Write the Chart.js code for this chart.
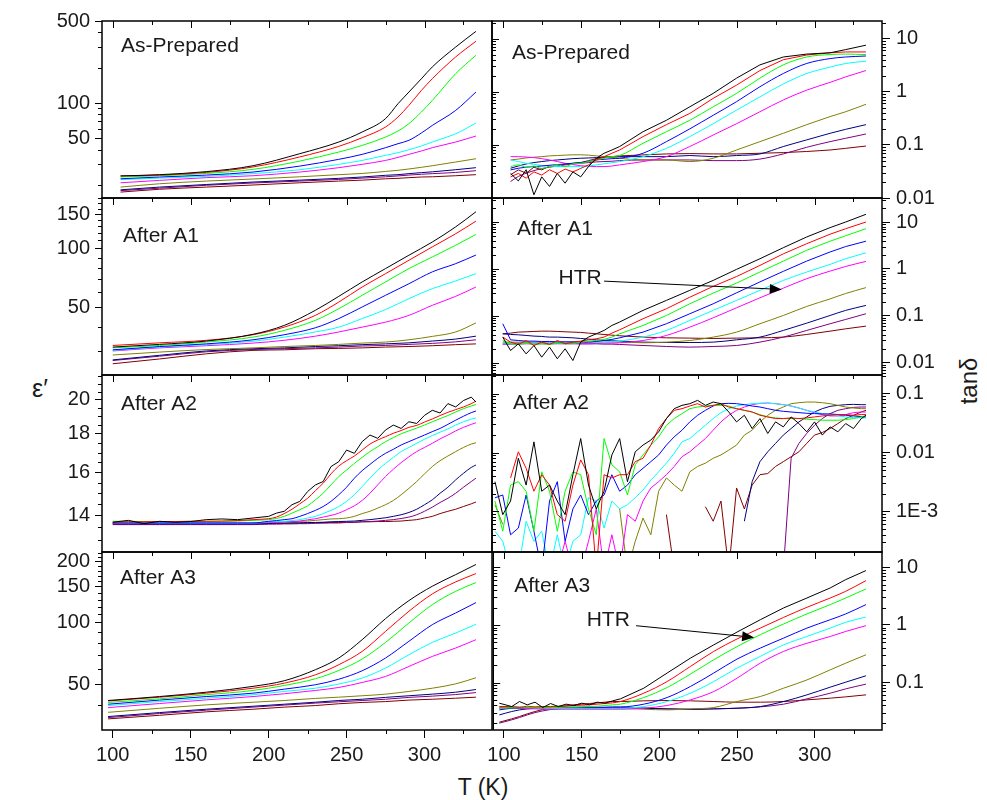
<!DOCTYPE html>
<html>
<head>
<meta charset="utf-8">
<script src="https://cdn.jsdelivr.net/npm/chart.js@4.4.0/dist/chart.umd.min.js"></script>
<style>
  body { margin: 0; background: #fff; width: 987px; height: 800px; position: relative; overflow: hidden;
         font-family: "Liberation Sans", Arial, sans-serif; color: #1a1a1a; }
  canvas { position: absolute; }
  .title { position: absolute; transform: translate(-50%, -50%); white-space: nowrap; }
</style>
</head>
<body>
<div class="title" style="left:483px;top:787px;font-size:23px">T (K)</div>
<div class="title" style="left:40px;top:388px;font-size:25px">ε′</div>
<div class="title" style="left:969px;top:381px;font-size:24px;transform:translate(-50%,-50%) rotate(-90deg)">tanδ</div>
<script>
// frequency curves, same colour order in every panel
const seriesColors = ['#000000', '#ff0000', '#00ff00', '#0000ff', '#00ffff', '#ff00ff', '#808000', '#000080', '#800080', '#800000'];

const xMajor = [100, 150, 200, 250, 300];
const xLabels = ['100', '150', '200', '250', '300'];
const xMinor = [125, 175, 225, 275, 325];

function gap(n) { return new Array(n).fill(null); }

// ---- As-Prepared, eps'
const apEpsT = [105, 130, 160, 190, 220, 245, 260, 275, 283, 290, 298, 305, 320, 333];
const apEps = [
  [23.9, 24.5, 26.0, 29.2, 37.0, 46.5, 56.6, 73.6, 98.6, 124, 161, 203, 300, 408],
  [23.9, 24.3, 25.6, 28.5, 34.7, 42.7, 50.6, 62.4, 76.0, 95.5, 128, 161, 247, 336],
  [23.4, 24.0, 25.1, 27.2, 32.0, 38.2, 43.5, 51.3, 57.7, 66.7, 83.8, 105, 178, 255],
  [22.6, 23.4, 24.3, 25.8, 29.0, 33.1, 36.5, 41.6, 45.0, 48.1, 55.5, 64.4, 86.5, 124],
  [22.2, 22.9, 23.7, 25.0, 27.0, 30.0, 32.4, 35.8, 37.7, 40.0, 43.0, 46.5, 54.7, 67.4],
  [20.9, 21.9, 23.1, 24.0, 25.8, 28.1, 30.0, 32.4, 34.4, 36.5, 39.0, 41.6, 46.5, 52.3],
  [19.2, 20.5, 21.6, 22.5, 23.5, 24.5, 25.1, 26.1, 26.7, 27.4, 28.3, 29.2, 31.4, 33.5],
  [18.2, 19.2, 20.2, 21.2, 22.0, 22.8, 23.4, 24.2, 24.5, 25.0, 25.5, 25.9, 27.0, 28.1],
  [17.9, 18.8, 19.9, 20.8, 21.6, 22.3, 22.9, 23.5, 23.9, 24.3, 24.7, 25.0, 25.6, 26.5],
  [17.4, 18.4, 19.2, 20.0, 20.9, 21.6, 22.0, 22.6, 22.8, 23.1, 23.4, 23.5, 24.0, 24.5]
];

// ---- As-Prepared, tan delta
const apTanT = [105, 110, 115, 120, 125, 130, 135, 140, 145, 150, 155, 160, 165, 170, 175, 190, 205, 220, 235, 250, 265, 280, 295, 310, 320, 333];
const apTan = [
  [0.029, 0.021, 0.034, 0.0115, 0.025, 0.0165, 0.029, 0.019, 0.031, 0.025, 0.039, 0.056, 0.0695, 0.080, 0.093, 0.177, 0.29, 0.52, 0.93, 1.8, 3.2, 4.5, 5.1, 5.4, 6.2, 7.5],
  [0.025, 0.029, 0.0236, 0.031, 0.027, 0.034, 0.029, 0.035, 0.031, 0.036, 0.042, 0.052, 0.060, 0.0695, 0.080, 0.143, 0.24, 0.39, 0.75, 1.33, 2.5, 4.0, 4.9, 5.4, 5.6, 5.6],
  [0.039, 0.042, 0.038, 0.040, 0.036, 0.039, 0.042, 0.039, 0.044, 0.045, 0.0485, 0.052, 0.056, 0.060, 0.063, 0.107, 0.177, 0.29, 0.52, 0.93, 1.8, 3.2, 4.5, 5.0, 5.1, 5.0],
  [0.0338, 0.0363, 0.038, 0.039, 0.040, 0.0413, 0.0425, 0.0437, 0.045, 0.0464, 0.0485, 0.052, 0.0535, 0.055, 0.056, 0.0695, 0.115, 0.20, 0.36, 0.65, 1.24, 2.2, 3.4, 4.2, 4.5, 4.7],
  [0.052, 0.0485, 0.045, 0.043, 0.041, 0.040, 0.039, 0.039, 0.039, 0.039, 0.040, 0.042, 0.044, 0.046, 0.0485, 0.060, 0.086, 0.143, 0.25, 0.45, 0.80, 1.4, 2.2, 2.9, 3.4, 3.75],
  [0.060, 0.060, 0.059, 0.0575, 0.055, 0.052, 0.0485, 0.045, 0.0425, 0.0405, 0.0395, 0.039, 0.039, 0.040, 0.042, 0.0485, 0.060, 0.093, 0.153, 0.25, 0.42, 0.70, 1.07, 1.5, 1.9, 2.5],
  [0.052, 0.054, 0.0567, 0.0585, 0.060, 0.062, 0.063, 0.064, 0.065, 0.065, 0.064, 0.062, 0.060, 0.0585, 0.056, 0.052, 0.052, 0.0485, 0.056, 0.080, 0.115, 0.165, 0.24, 0.34, 0.42, 0.58],
  [0.0363, 0.040, 0.0437, 0.0464, 0.0485, 0.0505, 0.052, 0.0535, 0.055, 0.056, 0.0567, 0.0575, 0.0585, 0.059, 0.060, 0.060, 0.060, 0.063, 0.060, 0.063, 0.0675, 0.093, 0.124, 0.165, 0.196, 0.24],
  [0.0204, 0.0254, 0.0293, 0.0328, 0.0358, 0.038, 0.040, 0.042, 0.0437, 0.045, 0.0464, 0.0478, 0.0485, 0.0492, 0.0505, 0.052, 0.052, 0.052, 0.0505, 0.0505, 0.054, 0.0675, 0.090, 0.115, 0.133, 0.16],
  [0.0273, 0.0338, 0.0293, 0.038, 0.0338, 0.040, 0.039, 0.0437, 0.045, 0.0464, 0.0505, 0.055, 0.0585, 0.060, 0.062, 0.0647, 0.0675, 0.0685, 0.0675, 0.0675, 0.0695, 0.0715, 0.075, 0.080, 0.086, 0.095]
];

// ---- After A1, eps'
const a1EpsT = [100, 130, 160, 190, 210, 230, 245, 260, 275, 290, 305, 320, 333];
const a1Eps = [
  [31.5, 32.5, 33.8, 36.6, 40.6, 48.5, 57.1, 67.6, 79.1, 92.5, 108, 129, 154],
  [32.1, 33.1, 34.1, 36.4, 39.8, 45.7, 53.4, 63.7, 74.5, 87.2, 102, 119, 138],
  [31.2, 32.1, 33.4, 35.4, 38.3, 43.1, 49.4, 57.8, 67.6, 79.1, 90.6, 104, 118],
  [30.5, 31.7, 32.7, 34.3, 36.4, 39.5, 44.0, 50.4, 57.8, 66.2, 76.1, 83.8, 92.7],
  [30.3, 31.5, 32.4, 33.7, 35.4, 37.6, 39.8, 44.0, 48.9, 55.6, 62.5, 68.4, 74.5],
  [30.1, 31.2, 32.0, 33.0, 34.1, 35.8, 37.6, 39.8, 42.2, 45.7, 51.4, 57.1, 63.7],
  [28.7, 29.7, 30.6, 31.2, 31.7, 32.1, 32.5, 33.0, 33.4, 34.3, 35.7, 37.6, 41.8],
  [27.1, 28.6, 30.1, 30.9, 31.2, 31.7, 32.0, 32.4, 32.7, 33.1, 33.8, 34.6, 35.8],
  [26.9, 28.3, 29.8, 30.6, 30.9, 31.2, 31.5, 31.9, 32.1, 32.5, 32.9, 33.5, 34.3],
  [25.9, 27.4, 29.1, 30.3, 30.5, 30.9, 31.0, 31.2, 31.5, 31.7, 32.0, 32.4, 32.7]
];

// ---- After A1, tan delta
const a1TanT = [100, 105, 110, 115, 120, 125, 130, 135, 140, 145, 150, 155, 160, 165, 170, 175, 190, 205, 220, 235, 250, 265, 280, 295, 310, 320, 333];
const a1Tan = [
  [0.0353, 0.0183, 0.0254, 0.0155, 0.0234, 0.0132, 0.0216, 0.0122, 0.0199, 0.0112, 0.0276, 0.0353, 0.0415, 0.049, 0.0625, 0.074, 0.131, 0.214, 0.35, 0.57, 0.98, 1.65, 2.84, 4.8, 7.6, 10.0, 14.6],
  [0.0353, 0.0276, 0.0246, 0.0299, 0.0234, 0.0276, 0.0246, 0.0299, 0.0254, 0.0276, 0.029, 0.0309, 0.0325, 0.0353, 0.0429, 0.0505, 0.087, 0.142, 0.25, 0.425, 0.69, 1.19, 2.1, 3.45, 5.5, 7.2, 10.0],
  [0.0299, 0.0254, 0.0246, 0.0262, 0.0242, 0.0254, 0.0246, 0.0262, 0.0254, 0.0254, 0.0276, 0.029, 0.0299, 0.0315, 0.0353, 0.0415, 0.0625, 0.102, 0.181, 0.306, 0.50, 0.86, 1.47, 2.5, 3.9, 5.1, 7.2],
  [0.068, 0.0309, 0.0299, 0.029, 0.029, 0.0285, 0.0285, 0.028, 0.028, 0.028, 0.0276, 0.0276, 0.0285, 0.0299, 0.0315, 0.0341, 0.0451, 0.068, 0.111, 0.181, 0.31, 0.53, 0.89, 1.47, 2.3, 3.0, 3.9],
  [0.0254, 0.0254, 0.0254, 0.0258, 0.0262, 0.0262, 0.0267, 0.0267, 0.0267, 0.0271, 0.0276, 0.0276, 0.0276, 0.0276, 0.028, 0.029, 0.0353, 0.049, 0.080, 0.131, 0.214, 0.35, 0.57, 0.86, 1.25, 1.65, 2.2],
  [0.0246, 0.0246, 0.025, 0.0254, 0.0254, 0.0254, 0.0254, 0.0254, 0.0254, 0.0254, 0.0254, 0.0254, 0.0258, 0.0262, 0.0262, 0.0267, 0.0299, 0.0383, 0.0575, 0.091, 0.149, 0.243, 0.39, 0.62, 0.90, 1.13, 1.45],
  [0.0276, 0.0276, 0.0276, 0.0276, 0.0276, 0.0276, 0.0276, 0.0276, 0.0276, 0.0276, 0.0276, 0.0276, 0.0276, 0.0276, 0.0276, 0.0276, 0.0267, 0.0276, 0.0299, 0.0353, 0.0451, 0.068, 0.102, 0.159, 0.23, 0.30, 0.40],
  [0.0415, 0.0402, 0.0395, 0.0383, 0.0371, 0.0365, 0.0353, 0.0353, 0.0347, 0.0341, 0.033, 0.032, 0.0309, 0.0299, 0.0294, 0.029, 0.0276, 0.0271, 0.0271, 0.0276, 0.0309, 0.0353, 0.049, 0.070, 0.102, 0.131, 0.167],
  [0.0254, 0.0262, 0.0262, 0.0262, 0.0262, 0.0262, 0.0262, 0.0262, 0.0258, 0.0258, 0.0254, 0.0254, 0.0254, 0.025, 0.025, 0.0246, 0.0234, 0.0223, 0.0216, 0.0223, 0.0234, 0.0276, 0.0353, 0.049, 0.068, 0.084, 0.111],
  [0.0415, 0.0429, 0.0451, 0.0458, 0.0466, 0.0473, 0.0473, 0.0466, 0.0458, 0.0451, 0.0444, 0.0429, 0.0415, 0.0402, 0.0389, 0.0377, 0.0353, 0.0341, 0.0336, 0.033, 0.0336, 0.0341, 0.0353, 0.0402, 0.0473, 0.053, 0.0605]
];

// ---- After A2, eps'
const a2EpsT = [100, 110, 120, 130, 140, 150, 160, 170, 180, 190, 200, 205, 210, 215, 220, 225, 230, 235, 240, 245, 250, 255, 260, 265, 270, 275, 280, 285, 290, 295, 300, 305, 310, 315, 320, 325, 330, 333];
const a2Eps = [
  [13.72, 13.80, 13.66, 13.76, 13.72, 13.75, 13.83, 13.86, 13.83, 13.90, 13.97, 14.11, 14.19, 14.48, 14.63, 15.08, 15.39, 15.55, 16.28, 16.53, 17.13, 16.96, 17.58, 17.94, 17.76, 18.22, 18.50, 18.31, 18.69, 18.59, 19.06, 19.36, 19.20, 19.76, 19.56, 19.95, 20.16, 19.86],
  [13.72, 13.74, 13.74, 13.75, 13.75, 13.76, 13.76, 13.77, 13.79, 13.83, 13.87, 13.94, 14.09, 14.28, 14.52, 14.77, 15.12, 15.47, 15.92, 16.31, 16.58, 16.82, 17.13, 17.45, 17.67, 17.85, 18.04, 18.19, 18.37, 18.48, 18.67, 18.85, 19.05, 19.24, 19.40, 19.56, 19.76, 19.91],
  [13.76, 13.76, 13.75, 13.75, 13.75, 13.76, 13.76, 13.76, 13.77, 13.80, 13.83, 13.88, 13.97, 14.11, 14.26, 14.43, 14.70, 15.00, 15.39, 15.79, 16.11, 16.44, 16.75, 17.05, 17.31, 17.58, 17.80, 18.01, 18.17, 18.33, 18.50, 18.69, 18.87, 19.05, 19.26, 19.46, 19.62, 19.70],
  [13.69, 13.69, 13.69, 13.69, 13.69, 13.69, 13.69, 13.69, 13.69, 13.69, 13.76, 13.79, 13.83, 13.87, 13.97, 14.09, 14.23, 14.40, 14.63, 14.93, 15.28, 15.71, 16.08, 16.39, 16.70, 16.96, 17.17, 17.40, 17.58, 17.76, 17.94, 18.13, 18.31, 18.54, 18.78, 19.01, 19.22, 19.32],
  [13.69, 13.69, 13.69, 13.69, 13.69, 13.69, 13.69, 13.69, 13.69, 13.69, 13.74, 13.75, 13.76, 13.79, 13.83, 13.90, 13.97, 14.09, 14.23, 14.40, 14.63, 14.93, 15.31, 15.71, 16.11, 16.44, 16.75, 17.05, 17.27, 17.49, 17.71, 17.91, 18.10, 18.28, 18.50, 18.69, 18.84, 18.91],
  [13.68, 13.68, 13.68, 13.68, 13.68, 13.68, 13.68, 13.68, 13.68, 13.68, 13.71, 13.72, 13.74, 13.75, 13.77, 13.82, 13.87, 13.94, 14.01, 14.11, 14.26, 14.43, 14.67, 15.00, 15.39, 15.79, 16.15, 16.48, 16.78, 17.05, 17.27, 17.49, 17.73, 17.94, 18.17, 18.37, 18.54, 18.63],
  [13.68, 13.68, 13.68, 13.68, 13.68, 13.68, 13.68, 13.68, 13.68, 13.68, 13.72, 13.72, 13.74, 13.75, 13.76, 13.77, 13.80, 13.83, 13.86, 13.87, 13.90, 13.97, 14.09, 14.19, 14.33, 14.48, 14.67, 14.93, 15.23, 15.55, 15.92, 16.28, 16.58, 16.82, 17.05, 17.27, 17.45, 17.52],
  [13.65, 13.65, 13.65, 13.65, 13.65, 13.65, 13.65, 13.65, 13.65, 13.65, 13.66, 13.68, 13.68, 13.69, 13.69, 13.71, 13.71, 13.72, 13.74, 13.75, 13.76, 13.77, 13.80, 13.83, 13.87, 13.91, 13.97, 14.04, 14.14, 14.28, 14.48, 14.70, 15.00, 15.28, 15.63, 15.95, 16.24, 16.36],
  [13.62, 13.62, 13.62, 13.62, 13.62, 13.62, 13.62, 13.62, 13.62, 13.62, 13.64, 13.64, 13.65, 13.65, 13.66, 13.66, 13.68, 13.68, 13.69, 13.69, 13.71, 13.72, 13.74, 13.75, 13.77, 13.80, 13.83, 13.88, 13.94, 14.04, 14.19, 14.37, 14.58, 14.77, 15.00, 15.28, 15.55, 15.71],
  [13.66, 13.66, 13.66, 13.66, 13.66, 13.66, 13.66, 13.66, 13.66, 13.66, 13.68, 13.68, 13.68, 13.69, 13.69, 13.69, 13.69, 13.71, 13.71, 13.71, 13.72, 13.72, 13.74, 13.74, 13.75, 13.75, 13.76, 13.77, 13.80, 13.83, 13.90, 13.97, 14.09, 14.19, 14.28, 14.40, 14.52, 14.60]
];

// ---- After A2, tan delta (0.0001 = below the axis)
const a2TanT = [95, 100, 105, 110, 115, 120, 125, 130, 135, 140, 145, 150, 155, 160, 165, 170, 175, 180, 185, 190, 195, 200, 205, 210, 215, 220, 225, 230, 235, 240, 245, 250, 255, 260, 265, 270, 275, 280, 285, 290, 295, 300, 305, 310, 315, 320, 325, 330, 333];
const a2Tan = [
  [0.0032, 0.00088, 0.0015, 0.0080, 0.0028, 0.0152, 0.0022, 0.0028, 0.0015, 0.00088, 0.0042, 0.0173, 0.0028, 0.0011, 0.0022, 0.0091, 0.0173, 0.0032, 0.0103, 0.0134, 0.0163, 0.0225, 0.0378, 0.0557, 0.0634, 0.0677, 0.0771, 0.0634, 0.0722, 0.0677, 0.0489, 0.0332, 0.0430, 0.0256, 0.0378, 0.0211, 0.0332, 0.0273, 0.0403, 0.0311, 0.0225, 0.0332, 0.0198, 0.0273, 0.0225, 0.0311, 0.0256, 0.0378, 0.0430],
  [null, null, 0.0037, 0.0103, 0.0054, 0.0022, 0.0042, 0.0028, 0.00088, 0.00068, 0.0028, 0.0075, 0.0042, 0.0001, 0.0042, 0.0037, 0.0042, 0.0042, 0.0070, 0.0080, 0.0134, 0.0256, 0.0378, 0.0522, 0.0557, 0.0618, 0.0677, 0.0594, 0.0634, 0.0677, 0.0594, 0.0557, 0.0522, 0.0489, 0.0430, 0.0403, 0.0378, 0.0378, 0.0388, 0.0378, 0.0388, 0.0403, 0.0419, 0.0430, 0.0442, 0.0442, 0.0430, 0.0442, 0.0442],
  [0.0015, 0.00046, 0.0028, 0.0032, 0.0022, 0.00046, 0.0047, 0.0022, 0.00046, 0.0022, 0.0047, 0.0042, 0.0011, 0.00040, 0.0173, 0.0062, 0.0047, 0.0019, 0.0062, 0.0091, 0.0134, 0.0185, 0.0291, 0.0378, 0.0459, 0.0557, 0.0594, 0.0618, 0.0634, 0.0634, 0.0618, 0.0557, 0.0522, 0.0489, 0.0442, 0.0403, 0.0388, 0.0378, 0.0378, 0.0378, 0.0368, 0.0363, 0.0354, 0.0354, 0.0354, 0.0363, 0.0378, 0.0403, 0.0419],
  [0.0017, 0.0019, 0.00040, 0.00052, 0.0019, 0.00046, 0.0001, 0.0015, 0.0032, 0.00031, 0.0011, 0.0019, 0.00088, 0.0015, 0.0019, 0.0042, 0.0022, 0.0028, 0.0042, 0.0054, 0.0070, 0.0091, 0.0134, 0.0185, 0.0240, 0.0332, 0.0430, 0.0522, 0.0618, 0.0677, 0.0686, 0.0677, 0.0651, 0.0618, 0.0594, 0.0557, 0.0522, 0.0502, 0.0489, 0.0477, 0.0465, 0.0459, 0.0453, 0.0453, 0.0442, 0.0430, 0.0419, 0.0408, 0.0403],
  [0.00046, 0.00031, 0.0001, 0.0001, 0.00068, 0.00031, 0.00046, 0.0001, 0.00040, 0.0001, 0.00031, 0.00040, 0.0017, 0.0015, 0.00052, 0.0015, 0.0011, 0.0013, 0.0017, 0.0023, 0.0034, 0.0047, 0.0066, 0.0097, 0.0152, 0.0173, 0.0225, 0.0291, 0.0378, 0.0477, 0.0557, 0.0618, 0.0651, 0.0677, 0.0686, 0.0686, 0.0677, 0.0651, 0.0618, 0.0571, 0.0522, 0.0489, 0.0459, 0.0442, 0.0419, 0.0403, 0.0393, 0.0388, 0.0388],
  [...gap(8), 0.0001, 0.00031, 0.0001, 0.0001, 0.00031, 0.0011, 0.0001, 0.00040, 0.0001, 0.00088, 0.00068, 0.0015, 0.0025, 0.0032, 0.0042, 0.0058, 0.0085, 0.0103, 0.0134, 0.0173, 0.0240, 0.0332, 0.0430, 0.0522, 0.0594, 0.0651, 0.0686, 0.0695, 0.0677, 0.0651, 0.0618, 0.0571, 0.0522, 0.0477, 0.0442, 0.0419, 0.0419, 0.0442, 0.0477, 0.0489, 0.0489],
  [0.0013, 0.00060, ...gap(14), 0.0011, 0.0001, 0.00031, 0.00077, 0.00040, 0.0022, 0.0037, 0.0028, 0.0022, 0.0047, 0.0058, 0.0066, 0.0080, 0.0091, 0.0110, 0.0134, 0.0198, 0.0240, 0.0332, 0.0430, 0.0522, 0.0594, 0.0677, 0.0703, 0.0722, 0.0722, 0.0703, 0.0677, 0.0634, 0.0594, 0.0571, 0.0557, 0.0557],
  [...gap(32), 0.00068, 0.0032, 0.0070, 0.0103, 0.0143, 0.0198, 0.0256, 0.0332, 0.0403, 0.0489, 0.0557, 0.0610, 0.0634, 0.0651, 0.0659, 0.0651, 0.0651],
  [...gap(37), 0.0001, 0.0080, 0.0143, 0.0211, 0.0291, 0.0378, 0.0459, 0.0522, 0.0557, 0.0586, 0.0594, 0.0594],
  [...gap(22), 0.00088, 0.0001, null, null, null, 0.0012, 0.00068, 0.0015, 0.0001, 0.0025, 0.0011, 0.0028, 0.0042, 0.0044, 0.0058, 0.0070, 0.0085, 0.0103, 0.0143, 0.0198, 0.0219, 0.0256, 0.0311, 0.0378, 0.0430, 0.0489, 0.0522]
];

// ---- After A3, eps'
const a3EpsT = [97, 130, 160, 190, 210, 230, 245, 260, 275, 290, 305, 320, 333];
const a3Eps = [
  [41.9, 43.8, 46.0, 49.1, 52.3, 59.2, 67.5, 82.9, 105, 128.5, 151, 172, 192.7],
  [41.7, 43.5, 45.5, 48.1, 50.9, 55.9, 62.6, 72.7, 91.0, 114, 138.5, 158.5, 174],
  [41.0, 42.7, 44.7, 46.9, 49.6, 53.5, 58.7, 66.7, 80.4, 100, 122.8, 142.7, 157.3],
  [40.2, 42.1, 43.8, 45.5, 47.6, 50.0, 53.2, 58.5, 67.5, 81.4, 98.1, 111.9, 125.6],
  [39.6, 41.4, 43.0, 44.7, 46.4, 48.1, 50.4, 53.9, 60.3, 70.0, 80.4, 89.3, 98.5],
  [38.7, 40.5, 42.2, 43.8, 45.2, 46.9, 48.5, 51.3, 54.9, 61.4, 68.7, 75.5, 82.9],
  [36.7, 38.4, 39.9, 41.1, 41.9, 42.9, 43.5, 44.2, 45.0, 46.4, 48.1, 50.5, 54.1],
  [35.0, 36.6, 38.0, 39.3, 40.2, 41.1, 41.9, 42.5, 43.4, 44.2, 45.0, 46.0, 47.4],
  [34.6, 36.2, 37.6, 38.9, 39.8, 40.7, 41.3, 41.9, 42.5, 43.4, 44.0, 44.8, 45.8],
  [34.1, 35.5, 36.9, 38.0, 38.9, 39.6, 40.4, 41.0, 41.4, 42.1, 42.5, 43.0, 43.5]
];

// ---- After A3, tan delta
const a3TanT = [97, 105, 110, 115, 120, 125, 130, 135, 140, 145, 150, 155, 160, 165, 170, 175, 190, 205, 220, 235, 250, 265, 280, 295, 310, 320, 333];
const a3Tan = [
  [0.0438, 0.0383, 0.0468, 0.0410, 0.0456, 0.0368, 0.0432, 0.0383, 0.0421, 0.0399, 0.0438, 0.0410, 0.0456, 0.0438, 0.0481, 0.0521, 0.0798, 0.146, 0.265, 0.45, 0.75, 1.23, 1.97, 2.93, 4.38, 6.11, 8.76],
  [0.0383, 0.0383, 0.0373, 0.0388, 0.0378, 0.0383, 0.0383, 0.0388, 0.0393, 0.0399, 0.0404, 0.0410, 0.0421, 0.0432, 0.0444, 0.0468, 0.0653, 0.104, 0.190, 0.347, 0.57, 0.88, 1.35, 2.02, 2.93, 3.83, 5.87],
  [0.0358, 0.0363, 0.0363, 0.0368, 0.0368, 0.0368, 0.0368, 0.0368, 0.0373, 0.0373, 0.0378, 0.0383, 0.0388, 0.0399, 0.0410, 0.0421, 0.0549, 0.0820, 0.140, 0.248, 0.42, 0.675, 1.04, 1.55, 2.25, 2.93, 4.21],
  [0.0335, 0.0358, 0.0363, 0.0368, 0.0368, 0.0373, 0.0373, 0.0373, 0.0373, 0.0373, 0.0373, 0.0373, 0.0373, 0.0373, 0.0378, 0.0378, 0.0421, 0.0549, 0.0853, 0.146, 0.255, 0.396, 0.59, 0.88, 1.23, 1.55, 2.25],
  [0.0383, 0.0378, 0.0373, 0.0368, 0.0363, 0.0363, 0.0358, 0.0358, 0.0358, 0.0358, 0.0358, 0.0358, 0.0358, 0.0358, 0.0358, 0.0358, 0.0383, 0.0468, 0.0653, 0.104, 0.178, 0.284, 0.45, 0.63, 0.88, 1.11, 1.37],
  [0.0358, 0.0358, 0.0354, 0.0349, 0.0349, 0.0344, 0.0344, 0.0344, 0.0344, 0.0344, 0.0344, 0.0344, 0.0344, 0.0344, 0.0344, 0.0344, 0.0358, 0.0399, 0.0500, 0.0698, 0.119, 0.217, 0.347, 0.48, 0.63, 0.77, 0.97],
  [0.0368, 0.0368, 0.0363, 0.0363, 0.0358, 0.0358, 0.0358, 0.0358, 0.0358, 0.0358, 0.0358, 0.0358, 0.0358, 0.0358, 0.0358, 0.0358, 0.0344, 0.0335, 0.0349, 0.0368, 0.0468, 0.0572, 0.0798, 0.111, 0.166, 0.217, 0.303],
  [0.0274, 0.0314, 0.0335, 0.0349, 0.0358, 0.0363, 0.0363, 0.0368, 0.0368, 0.0368, 0.0368, 0.0368, 0.0368, 0.0368, 0.0368, 0.0368, 0.0358, 0.0349, 0.0344, 0.0349, 0.0358, 0.0383, 0.0468, 0.0611, 0.0831, 0.1015, 0.131],
  [0.0197, 0.0225, 0.0247, 0.0274, 0.0301, 0.0322, 0.0340, 0.0349, 0.0358, 0.0358, 0.0358, 0.0358, 0.0358, 0.0358, 0.0358, 0.0358, 0.0358, 0.0349, 0.0340, 0.0349, 0.0358, 0.0378, 0.0421, 0.0521, 0.0653, 0.0777, 0.0937],
  [0.0205, 0.0234, 0.0257, 0.0286, 0.0314, 0.0340, 0.0358, 0.0378, 0.0393, 0.0410, 0.0421, 0.0432, 0.0444, 0.0456, 0.0468, 0.0468, 0.0481, 0.0487, 0.0481, 0.0468, 0.0456, 0.0456, 0.0468, 0.0500, 0.0535, 0.0564, 0.0611]
];

// y tick values and labels
const apEpsTicks = [50, 100, 500], apEpsLabels = ['50', '100', '500'];
const a1EpsTicks = [50, 100, 150], a1EpsLabels = ['50', '100', '150'];
const a2EpsTicks = [14, 16, 18, 20], a2EpsLabels = ['14', '16', '18', '20'];
const a3EpsTicks = [50, 100, 150, 200], a3EpsLabels = ['50', '100', '150', '200'];
const tanTicks = [0.01, 0.1, 1, 10], tanLabels = ['0.01', '0.1', '1', '10'];
const a2TanTicks = [0.001, 0.01, 0.1], a2TanLabels = ['1E-3', '0.01', '0.1'];
const a3TanTicks = [0.1, 1, 10], a3TanLabels = ['0.1', '1', '10'];

function logMinors(min, max) {
  const out = [];
  for (let e = -5; e <= 3; e++) for (let m = 2; m <= 9; m++) {
    const v = m * Math.pow(10, e);
    if (v > min && v < max) out.push(v);
  }
  return out;
}
function stepMinors(min, max, step, major) {
  const out = [];
  for (let v = Math.ceil(min / step) * step; v < max; v += step) {
    const r = Math.round(v * 100) / 100;
    if (!major.includes(r)) out.push(r);
  }
  return out;
}

const rowTop = [21, 198, 375, 552];
const rowH = [177, 177, 177, 178];
const FONT = '"Liberation Sans", Arial, sans-serif';

// noisy: series drawn with straight segments (index into the colour list)
const panels = [
  { row: 0, col: 0, name: 'As-Prepared', T: apEpsT, Y: apEps, min: 15.5, max: 500, ticks: apEpsTicks, labels: apEpsLabels, minor: logMinors(15.5, 500), noisy: [], tx: 19, ty: 15 },
  { row: 0, col: 1, name: 'As-Prepared', T: apTanT, Y: apTan, min: 0.01, max: 21.4, ticks: tanTicks, labels: tanLabels, minor: logMinors(0.01, 21.4), noisy: [0, 1, 9], tx: 20, ty: 22 },
  { row: 1, col: 0, name: 'After A1', T: a1EpsT, Y: a1Eps, min: 22.7, max: 181, ticks: a1EpsTicks, labels: a1EpsLabels, minor: stepMinors(22.7, 181, 10, a1EpsTicks), noisy: [], tx: 21, ty: 28 },
  { row: 1, col: 1, name: 'After A1', T: a1TanT, Y: a1Tan, min: 0.0055, max: 32.5, ticks: tanTicks, labels: tanLabels, minor: logMinors(0.0055, 32.5), noisy: [0, 1, 2, 3], tx: 25, ty: 21,
    note: { text: 'HTR', tx: 163.5, ty: 0.645, x0: 165, y0: 0.55, x1: 279, y1: 0.366 } },
  { row: 2, col: 0, name: 'After A2', T: a2EpsT, Y: a2Eps, min: 12.52, max: 21.58, ticks: a2EpsTicks, labels: a2EpsLabels, minor: stepMinors(12.52, 21.58, 0.5, a2EpsTicks), noisy: [0], tx: 19, ty: 19 },
  { row: 2, col: 1, name: 'After A2', T: a2TanT, Y: a2Tan, min: 0.000204, max: 0.208, ticks: a2TanTicks, labels: a2TanLabels, minor: logMinors(0.000204, 0.208), noisy: [0, 1, 2, 3, 4, 5, 6, 7, 8, 9], tx: 21, ty: 18 },
  { row: 3, col: 0, name: 'After A3', T: a3EpsT, Y: a3Eps, min: 30.1, max: 221.7, ticks: a3EpsTicks, labels: a3EpsLabels, minor: stepMinors(30.1, 221.7, 10, a3EpsTicks), noisy: [], tx: 18, ty: 16 },
  { row: 3, col: 1, name: 'After A3', T: a3TanT, Y: a3Tan, min: 0.015, max: 18.4, ticks: a3TanTicks, labels: a3TanLabels, minor: logMinors(0.015, 18.4), noisy: [0], tx: 21, ty: 24,
    note: { text: 'HTR', tx: 181, ty: 1.19, x0: 185, y0: 0.968, x1: 261, y1: 0.607 } }
];

function framePlugin(p) {
  const left = p.col === 0, bottom = p.row === 3;
  return {
    id: 'frame',
    afterDraw(chart) {
      const { ctx, chartArea: a, scales: { x, y } } = chart;
      ctx.save();
      ctx.strokeStyle = '#000';
      ctx.lineWidth = 1;
      ctx.beginPath();
      // top edge, ticks point inward
      xMajor.forEach(v => { const px = Math.round(x.getPixelForValue(v)) + 0.5; ctx.moveTo(px, a.top); ctx.lineTo(px, a.top + 7); });
      xMinor.forEach(v => { const px = Math.round(x.getPixelForValue(v)) + 0.5; ctx.moveTo(px, a.top); ctx.lineTo(px, a.top + 4); });
      if (bottom) {
        xMinor.forEach(v => { const px = Math.round(x.getPixelForValue(v)) + 0.5; ctx.moveTo(px, a.bottom); ctx.lineTo(px, a.bottom + 4); });
      }
      // minor ticks on the labelled side
      p.minor.forEach(v => {
        const py = Math.round(y.getPixelForValue(v)) + 0.5;
        if (left) { ctx.moveTo(a.left, py); ctx.lineTo(a.left - 4, py); }
        else { ctx.moveTo(a.right, py); ctx.lineTo(a.right + 4, py); }
      });
      // right panels also carry inward ticks on their left edge
      if (!left) {
        p.ticks.forEach(v => { const py = Math.round(y.getPixelForValue(v)) + 0.5; ctx.moveTo(a.left, py); ctx.lineTo(a.left + 7, py); });
        p.minor.forEach(v => { const py = Math.round(y.getPixelForValue(v)) + 0.5; ctx.moveTo(a.left, py); ctx.lineTo(a.left + 4, py); });
      }
      ctx.stroke();
      ctx.lineWidth = 1.5;
      ctx.strokeRect(a.left, a.top, a.right - a.left, a.bottom - a.top);

      ctx.fillStyle = '#1a1a1a';
      ctx.font = '21px ' + FONT;
      ctx.textBaseline = 'top';
      ctx.textAlign = 'left';
      ctx.fillText(p.name, a.left + p.tx, a.top + p.ty);

      if (p.note) {
        const n = p.note;
        ctx.textAlign = 'right';
        ctx.textBaseline = 'middle';
        ctx.fillText(n.text, x.getPixelForValue(n.tx), y.getPixelForValue(n.ty));
        const x0 = x.getPixelForValue(n.x0), y0 = y.getPixelForValue(n.y0);
        const x1 = x.getPixelForValue(n.x1), y1 = y.getPixelForValue(n.y1);
        const ang = Math.atan2(y1 - y0, x1 - x0), L = 12, W = 5;
        const bx = x1 - L * Math.cos(ang), by = y1 - L * Math.sin(ang);
        ctx.lineWidth = 1;
        ctx.beginPath();
        ctx.moveTo(x0, y0); ctx.lineTo(bx, by);
        ctx.stroke();
        ctx.fillStyle = '#000';
        ctx.beginPath();
        ctx.moveTo(x1, y1);
        ctx.lineTo(bx + W * Math.sin(ang), by - W * Math.cos(ang));
        ctx.lineTo(bx - W * Math.sin(ang), by + W * Math.cos(ang));
        ctx.closePath();
        ctx.fill();
      }
      ctx.restore();
    }
  };
}

function makePanel(p) {
  const left = p.col === 0, bottom = p.row === 3;
  // generous padding so Chart.js never has to shrink the plot for label overflow
  const padT = 26, padB = bottom ? 0 : 26, axisH = bottom ? 62 : 0;
  const cv = document.createElement('canvas');
  const cw = left ? 497 : 505;
  const ch = padT + rowH[p.row] + padB + axisH;
  cv.width = cw; cv.height = ch;
  cv.style.width = cw + 'px'; cv.style.height = ch + 'px';
  cv.style.left = (left ? 0 : 482) + 'px';
  cv.style.top = (rowTop[p.row] - padT) + 'px';
  document.body.appendChild(cv);

  new Chart(cv, {
    type: 'line',
    data: {
      datasets: p.Y.map((ys, i) => {
        const sharp = p.noisy.includes(i);
        return {
          data: ys.map((v, j) => ({ x: p.T[j], y: v })),
          borderColor: seriesColors[i],
          borderWidth: 1,
          pointRadius: 0,
          fill: false,
          spanGaps: false,
          tension: sharp ? 0 : 0.4,
          cubicInterpolationMode: sharp ? 'default' : 'monotone'
        };
      })
    },
    options: {
      responsive: false,
      animation: false,
      devicePixelRatio: 1,
      layout: { padding: { left: left ? 0 : 10, right: left ? 5 : 0, top: padT, bottom: padB } },
      plugins: { legend: { display: false }, tooltip: { enabled: false } },
      scales: {
        x: {
          type: 'linear', min: 93.1, max: 343.3, display: bottom,
          afterBuildTicks: s => { s.ticks = xMajor.map(v => ({ value: v })); },
          afterFit: s => { s.height = axisH; },
          grid: { drawOnChartArea: false, tickLength: 8, color: '#000', tickColor: '#000' },
          border: { display: false },
          ticks: { callback: (v, i) => xLabels[i], font: { size: 20, family: FONT }, color: '#1a1a1a', padding: 5, maxRotation: 0, autoSkip: false }
        },
        y: {
          type: 'logarithmic', position: left ? 'left' : 'right', min: p.min, max: p.max,
          afterBuildTicks: s => { s.ticks = p.ticks.map(v => ({ value: v })); },
          afterFit: s => { s.width = left ? 102 : 105; },
          grid: { drawOnChartArea: false, tickLength: left ? 7 : 8, color: '#000', tickColor: '#000' },
          border: { display: false },
          ticks: { callback: (v, i) => p.labels[i], font: { size: 20, family: FONT }, color: '#1a1a1a', padding: left ? 5 : 6, autoSkip: false }
        }
      }
    },
    plugins: [framePlugin(p)]
  });
}

panels.forEach(makePanel);
</script>
</body>
</html>
